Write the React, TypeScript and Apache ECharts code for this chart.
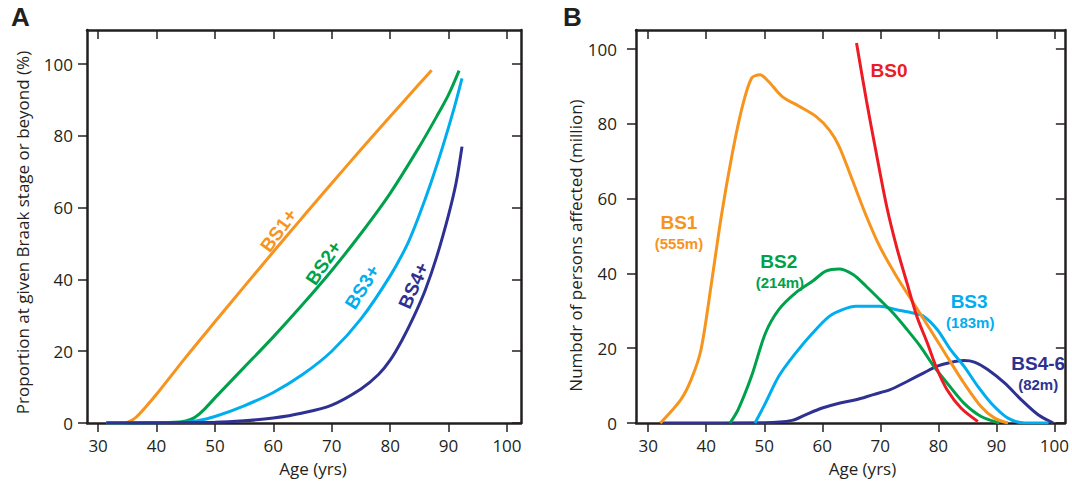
import React, { useEffect, useRef } from "react";
import * as echarts from "echarts";

// Panel A: proportion at given Braak stage or beyond (%), by age
const bs1Plus: number[][] = [[31.4,0],[34.5,0],[35.5,0.5],[36.5,1.6],[38,4.2],[40,8],[45,18.3],[50,28.2],[55,38],[60,47.7],[65,57.3],[70,66.8],[75,76.2],[80,85.4],[85,94.5],[87.1,98.3]];
const bs2Plus: number[][] = [[31.4,0],[43,0.2],[45,0.6],[46.5,1.5],[48,3.5],[50,7],[55,15.5],[60,24],[65,33],[70,42.5],[75,52.8],[80,64],[85,77],[88,85.5],[90,91.5],[91.8,98.2]];
const bs3Plus: number[][] = [[31.4,0],[45,0.2],[47,0.6],[50,1.8],[55,4.8],[60,8.5],[65,13.5],[70,20],[75,29],[80,41],[83,50],[85,58],[87,67],[89,77],[91,88],[92.3,96]];
const bs4Plus: number[][] = [[31.4,0],[50,0.2],[55,0.6],[60,1.4],[65,2.8],[70,5],[75,9.5],[78,13.5],[80,17.5],[82,23],[84,29.5],[86,37],[88,46.5],[90,58],[91.3,67],[92.3,77]];

// Panel B: number of persons affected (million), by age
const bs0: number[][] = [[65.9,101.6],[67.6,86.3],[69.3,72.2],[71.1,57.9],[72.8,47.1],[74.6,37.4],[76.3,28.5],[78.1,21.4],[79.8,14.3],[81.5,8.9],[83.9,4],[86.8,0.4]];
const bs1: number[][] = [[32.1,0],[35.6,6.2],[37.4,11.6],[39.1,19.6],[40.9,37.4],[42.6,55.3],[44.4,71.3],[46.1,83.8],[47.8,92.2],[49.3,93.1],[50.7,91.4],[53.1,87.3],[56,84.7],[58.9,82],[61.2,78.4],[62.9,74],[65.2,64.9],[67.6,55.3],[69.9,47.2],[72.8,39.2],[75.7,32.1],[78.6,25],[81.5,17.8],[84.4,10.7],[87.3,4.5],[89.7,1.3],[92,0]];
const bs2: number[][] = [[44.1,0],[45.5,3.6],[47.8,12.5],[50.2,24],[52.5,30.3],[55.4,34.8],[58.3,37.9],[60.6,40.6],[62.9,41.2],[65.3,39.7],[67.6,36.5],[69.9,33],[72.2,29.4],[74.6,25],[76.9,20.5],[79.2,15.2],[81.5,10.7],[84.4,5.3],[87.3,1.8],[90.5,0]];
const bs3: number[][] = [[48.4,0],[50.2,5.3],[52.5,12.5],[55.4,18.7],[58.3,24],[61.2,28.5],[63.5,30.3],[65.8,31.2],[69.9,31.2],[72.8,30.3],[75.7,29.4],[77.5,28.5],[79.8,25],[82.1,19.6],[84.4,15.2],[86.8,9.8],[89.1,5.3],[92,1.3],[94.9,0],[99,0]];
const bs46: number[][] = [[32,0],[50,0.1],[54.8,0.7],[57.1,2.2],[60,4],[62.9,5.3],[65.8,6.2],[68.8,7.6],[71.7,8.9],[74.6,11.1],[77.5,13.4],[79.8,15.2],[82.1,16.2],[84.4,16.7],[86.2,16.3],[88.5,14.3],[91.4,10.7],[94.3,6.2],[97.2,2.2],[99.8,0]];

const xTicks = [30, 40, 50, 60, 70, 80, 90, 100];
const yTicks = [0, 20, 40, 60, 80, 100];

const ORANGE = "#F7941D";
const GREEN = "#00A14B";
const CYAN = "#00AEEF";
const NAVY = "#2E3192";
const RED = "#ED1C24";
const INK = "#231F20";

export default function App() {
  const ref = useRef<HTMLDivElement>(null);
  useEffect(() => {
    if (!ref.current) return;
    const chart = echarts.init(ref.current, null, { renderer: "svg" });
    const tickFont = { fontFamily: "Open Sans", fontSize: 17, color: INK };
    const axisLine = { show: true, onZero: false, lineStyle: { color: INK, width: 2.5 } };
    const tickStyle = { color: INK, width: 1.5 };

    const mkX = (grid: number, pos: "bottom" | "top", min: number, max: number, namePad: number) => ({
      type: "value",
      gridIndex: grid,
      position: pos,
      min,
      max,
      name: pos === "bottom" ? "Age (yrs)" : "",
      nameLocation: "middle",
      nameGap: 37,
      nameTextStyle: { ...tickFont, padding: [0, 0, 0, namePad] },
      axisLine,
      axisTick: { show: true, inside: pos === "top", length: 9, lineStyle: tickStyle, customValues: xTicks },
      axisLabel: { show: pos === "bottom", margin: 14, ...tickFont, customValues: xTicks },
      splitLine: { show: false },
    });
    const mkY = (grid: number, pos: "left" | "right", max: number, name: string, gap: number, pad: number, labMargin: number) => ({
      type: "value",
      gridIndex: grid,
      position: pos,
      min: 0,
      max,
      name: pos === "left" ? name : "",
      nameLocation: "middle",
      nameGap: gap,
      nameRotate: 90,
      nameTextStyle: { ...tickFont, padding: [0, pad, 0, 0] },
      axisLine,
      axisTick: { show: true, inside: pos === "right", length: 9, lineStyle: tickStyle, customValues: yTicks },
      axisLabel: { show: pos === "left", margin: labMargin, ...tickFont, customValues: yTicks },
      splitLine: { show: false },
    });

    const mark = (items: { coord: number[]; text: string; size: number; rotate?: number }[], color: string) => ({
      symbol: "circle",
      symbolSize: 1,
      itemStyle: { color: "transparent" },
      silent: true,
      data: items.map((it) => ({
        coord: it.coord,
        value: it.text,
        label: {
          show: true,
          position: "inside",
          formatter: it.text,
          rotate: it.rotate || 0,
          color,
          fontFamily: "Liberation Sans",
          fontWeight: "bold",
          fontSize: it.size,
        },
      })),
    });

    const line = (name: string, data: number[][], color: string, axis: number, smooth: number, marks?: any) => ({
      type: "line",
      name,
      data,
      xAxisIndex: axis,
      yAxisIndex: axis,
      showSymbol: false,
      smooth,
      lineStyle: { color, width: 3 },
      itemStyle: { color },
      z: 3,
      markPoint: marks,
    });

    chart.setOption({
      animation: false,
      grid: [
        { left: 87, top: 30, width: 434, height: 393 },
        { left: 636, top: 30, width: 429, height: 393 },
      ],
      xAxis: [
        mkX(0, "bottom", 28.1, 102.4, 18),
        mkX(0, "top", 28.1, 102.4, 0),
        mkX(1, "bottom", 27.9, 101.8, 24),
        mkX(1, "top", 27.9, 101.8, 0),
      ],
      yAxis: [
        mkY(0, "left", 109.5, "Proportion at given Braak stage or beyond (%)", 56, 12, 14),
        mkY(0, "right", 109.5, "", 0, 0, 14),
        mkY(1, "left", 105.1, "Numbdr of persons affected (million)", 37, 38, 19),
        mkY(1, "right", 105.1, "", 0, 0, 19),
      ],
      series: [
        line("BS1+", bs1Plus, ORANGE, 0, 0.3, mark([{ coord: [60.9, 53.7], text: "BS1+", size: 19, rotate: 54 }], ORANGE)),
        line("BS2+", bs2Plus, GREEN, 0, 0.3, mark([{ coord: [68.6, 44.6], text: "BS2+", size: 19, rotate: 56 }], GREEN)),
        line("BS3+", bs3Plus, CYAN, 0, 0.3, mark([{ coord: [75.2, 37.9], text: "BS3+", size: 19, rotate: 58 }], CYAN)),
        line("BS4+", bs4Plus, NAVY, 0, 0.3, mark([{ coord: [84.0, 38.3], text: "BS4+", size: 19, rotate: 66 }], NAVY)),
        line("BS4-6", bs46, NAVY, 2, 0.3, mark([{ coord: [97.2, 16.0], text: "BS4-6", size: 19 }, { coord: [97.2, 10.2], text: "(82m)", size: 15 }], NAVY)),
        line("BS3", bs3, CYAN, 2, 0.3, mark([{ coord: [85.3, 32.5], text: "BS3", size: 19 }, { coord: [85.5, 26.9], text: "(183m)", size: 15 }], CYAN)),
        line("BS2", bs2, GREEN, 2, 0.3, mark([{ coord: [52.5, 43.2], text: "BS2", size: 19 }, { coord: [52.7, 37.6], text: "(214m)", size: 15 }], GREEN)),
        line("BS1", bs1, ORANGE, 2, 0.3, mark([{ coord: [35.3, 53.7], text: "BS1", size: 19 }, { coord: [35.3, 48.1], text: "(555m)", size: 15 }], ORANGE)),
        line("BS0", bs0, RED, 2, 0.3, mark([{ coord: [71.5, 94.3], text: "BS0", size: 19 }], RED)),
      ],
      graphic: [
        { type: "text", left: 11, top: 4, style: { text: "A", fontFamily: "Liberation Sans", fontWeight: "bold", fontSize: 26, fill: INK } },
        { type: "text", left: 563, top: 4, style: { text: "B", fontFamily: "Liberation Sans", fontWeight: "bold", fontSize: 26, fill: INK } },
      ],
    });
    return () => chart.dispose();
  }, []);
  return <div ref={ref} style={{ position: "absolute", left: 0, top: 0, width: 1072, height: 484, background: "#fff" }} />;
}
